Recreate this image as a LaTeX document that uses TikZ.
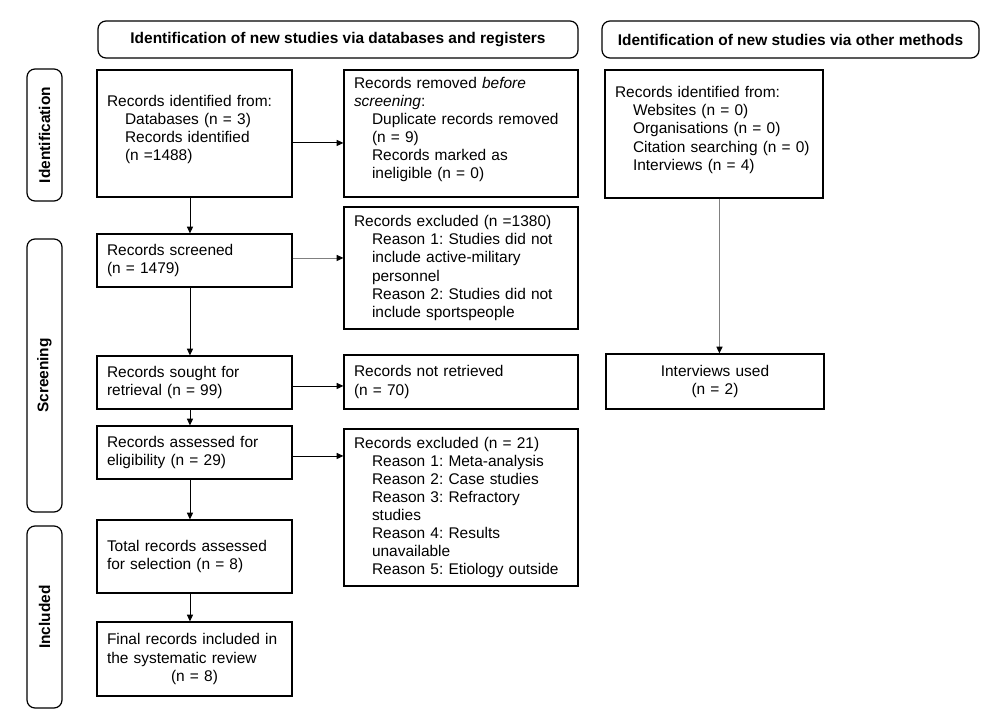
\documentclass[tikz,border=0pt]{standalone}
\usepackage{fontspec}
\setmainfont{Liberation Sans}
\usetikzlibrary{arrows.meta}
\newcommand\ind{\hspace*{13.5pt}}
\newcommand\lowstrut{\rule[-8.5pt]{0pt}{8.5pt}}
\tikzset{
  basefont/.style={font=\fontsize{11.6pt}{13.6pt}\selectfont\frenchspacing},
  boxst/.style={draw=black, line width=0.9pt, rectangle, inner xsep=7.5pt, inner ysep=0pt, align=left, basefont},
  lcol/.style={boxst, text width=131.25pt},
  mcol/.style={boxst, text width=160.5pt},
  rcol/.style={boxst, text width=148.5pt},
  headst/.style={draw=black, line width=0.9pt, rounded corners=6pt, inner sep=0pt, font=\fontsize{11.6pt}{13.6pt}\selectfont\bfseries},
  sidest/.style={draw=black, line width=0.9pt, rounded corners=6pt, inner sep=0pt},
  sidelbl/.style={rotate=90, font=\fontsize{11.6pt}{13.6pt}\selectfont\bfseries},
  arr/.style={draw=black, line width=0.7pt, -{Triangle[length=5pt,width=4.5pt,color=black]}},
  garr/.style={arr, draw=black!50},
}
% name, x1, y1, x2, y2, style, text
\newcommand\mkbox[7]{\node[#6, minimum width={(#4-#2)*0.75pt}, minimum height={(#5-#3)*0.75pt}] (#1) at ({(#2+#4)/2},{(#3+#5)/2}) {#7};}
\begin{document}
\begin{tikzpicture}[x=0.75pt,y=-0.75pt]
\fill[white] (0,0) rectangle (986,717);
\useasboundingbox (0,0) rectangle (986,717);

% headers
\mkbox{h1}{98}{21}{578}{58}{headst}{Identification of new studies via databases and registers}
\mkbox{h2}{602}{21}{979}{58}{headst}{Identification of new studies via other methods}

% side boxes
\mkbox{sid}{27}{69}{62}{201}{sidest}{}
\mkbox{sscr}{27}{239}{62}{512}{sidest}{}
\mkbox{sinc}{27}{526}{62}{708}{sidest}{}
\node[sidelbl] (lid) at (sid.center) {Identification};
\node[sidelbl] (lscr) at (sscr.center) {Screening};
\node[sidelbl] (linc) at (sinc.center) {Included};

% left column
\mkbox{id}{97}{70}{292}{197}{lcol}{Records identified from:\\\ind Databases (n = 3)\\\ind Records identified\\\ind (n =1488)\lowstrut}
\mkbox{scr}{97}{234}{292}{287}{lcol}{Records screened\\(n = 1479)}
\mkbox{sou}{97}{356}{292}{409}{lcol}{Records sought for\\retrieval (n = 99)}
\mkbox{ass}{97}{426}{292}{479}{lcol}{Records assessed for\\eligibility (n = 29)}
\mkbox{tot}{97}{520}{292}{593}{lcol}{Total records assessed\\for selection (n = 8)}
\mkbox{fin}{97}{622}{292}{696}{lcol}{Final records included in\\the systematic review\\\makebox[\linewidth][c]{(n = 8)}}

% middle column
\mkbox{rem}{344}{70}{578}{197}{mcol}{Records removed \emph{before}\\\emph{screening}:\\\ind Duplicate records removed\\\ind (n = 9)\\\ind Records marked as\\\ind ineligible (n = 0)\lowstrut}
\mkbox{exa}{344}{207}{578}{329}{mcol}{Records excluded (n =1380)\\\ind Reason 1: Studies did not\\\ind include active-military\\\ind personnel\\\ind Reason 2: Studies did not\\\ind include sportspeople}
\mkbox{nret}{344}{355}{578}{409}{mcol}{Records not retrieved\\(n = 70)}
\mkbox{exb}{344}{429}{578}{586}{mcol}{Records excluded (n = 21)\\\ind Reason 1: Meta-analysis\\\ind Reason 2: Case studies\\\ind Reason 3: Refractory\\\ind studies\\\ind Reason 4: Results\\\ind unavailable\\\ind Reason 5: Etiology outside}

% right column
\mkbox{oth}{605}{70}{823}{198}{rcol}{Records identified from:\\\ind Websites (n = 0)\\\ind Organisations (n = 0)\\\ind Citation searching (n = 0)\\\ind Interviews (n = 4)\lowstrut}
\mkbox{intv}{606}{354}{824}{409}{rcol, align=center}{Interviews used\\(n = 2)}

% connectors
\draw[arr] ([yshift=-7.1pt]id.east) -- ([yshift=-7.1pt]id.east -| rem.west);
\draw[arr] ([xshift=-3.4pt]id.south) -- ([xshift=-3.4pt]id.south |- scr.north);
\draw[garr] ([yshift=1.9pt]scr.east) -- ([yshift=1.9pt]scr.east -| exa.west);
\draw[arr] ([xshift=-3.4pt]scr.south) -- ([xshift=-3.4pt]scr.south |- sou.north);
\draw[arr] ([yshift=-2.6pt]sou.east) -- ([yshift=-2.6pt]sou.east -| nret.west);
\draw[arr] ([xshift=-3.4pt]sou.south) -- ([xshift=-3.4pt]sou.south |- ass.north);
\draw[arr] ([yshift=-2.6pt]ass.east) -- ([yshift=-2.6pt]ass.east -| exb.west);
\draw[arr] ([xshift=-3.4pt]ass.south) -- ([xshift=-3.4pt]ass.south |- tot.north);
\draw[arr] ([xshift=-3.4pt]tot.south) -- ([xshift=-3.4pt]tot.south |- fin.north);
\draw[garr, line width=1pt] ([xshift=4.1pt]oth.south) -- ([xshift=4.1pt]oth.south |- intv.north);
\end{tikzpicture}
\end{document}
